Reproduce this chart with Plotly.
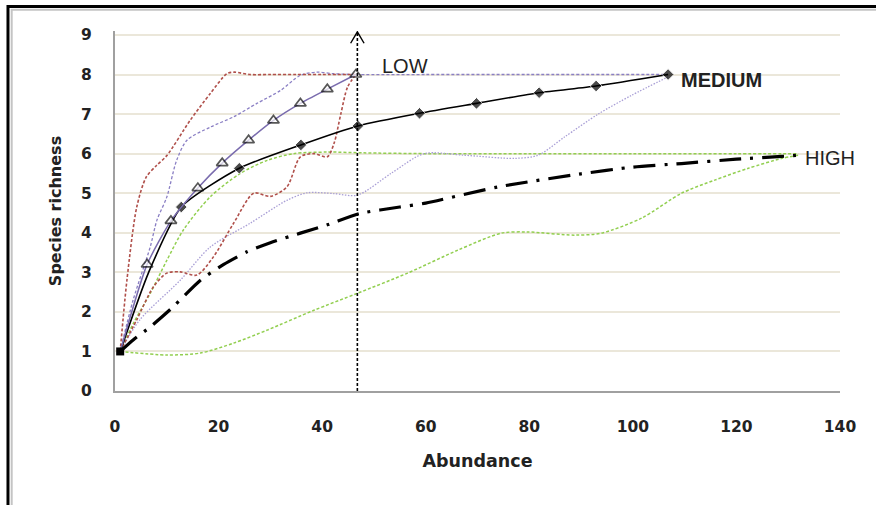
import plotly.graph_objects as go

# ---------------- data ----------------
# LOW mean curve (open triangles)
low_x = [1, 6.2, 10.8, 16, 20.7, 25.8, 30.6, 35.8, 41, 46.5]
low_y = [1, 3.2, 4.3, 5.13, 5.76, 6.34, 6.84, 7.27, 7.63, 8.0]

# MEDIUM mean curve (filled diamonds)
med_x = [1, 6.5, 12.8, 24, 35.9, 46.9, 58.8, 69.8, 81.9, 92.9, 106.8]
med_y = [1, 3.0, 4.65, 5.63, 6.22, 6.7, 7.02, 7.27, 7.54, 7.71, 8.0]

# HIGH mean curve (dash-dot)
high_x = [1, 3.5, 6.8, 11, 16.5, 21, 25.5, 30, 35.8, 41, 47.4, 55, 60, 74, 90, 100, 109.4, 120, 128.8, 132]
high_y = [1, 1.29, 1.62, 2.1, 2.8, 3.2, 3.52, 3.75, 3.99, 4.2, 4.49, 4.65, 4.75, 5.16, 5.49, 5.66, 5.75, 5.86, 5.93, 5.96]

# LOW replicates (red dashed)
red1_x = [1, 2.3, 4.2, 6, 8, 10, 14.5, 18.4, 21.6, 23, 26, 30, 35, 40, 46.5]
red1_y = [1, 2.8, 4.65, 5.4, 5.7, 5.95, 6.84, 7.52, 8.02, 8.06, 8.0, 8.0, 8.0, 8.0, 8.0]
red2_x = [1, 4.2, 7.4, 10, 12.6, 15.8, 19, 22.9, 26.8, 30, 33.2, 35.8, 38.4, 41, 42.3, 43.6, 44.9, 46.5]
red2_y = [1, 1.8, 2.63, 2.98, 3.01, 2.93, 3.39, 4.24, 5.0, 4.92, 5.16, 5.92, 6.0, 5.92, 6.26, 7.0, 7.68, 8.0]

# MEDIUM replicates (purple dashed / dotted)
pur1_x = [1, 3.5, 6.8, 8.1, 10, 11.9, 13.9, 18.4, 22.9, 27.4, 32, 35.8, 39, 42.3, 47, 60, 80, 106.8]
pur1_y = [1, 2.3, 3.64, 4.32, 4.9, 5.83, 6.34, 6.67, 6.93, 7.27, 7.6, 7.98, 8.06, 8.02, 8.0, 8.0, 8.0, 8.0]
pur2_x = [1, 4.8, 12.6, 18.4, 26.1, 33.2, 37.1, 42.3, 46.8, 53.3, 59.7, 67.4, 77.1, 81.7, 86.8, 93.3, 99.7, 106.8]
pur2_y = [1, 1.8, 2.8, 3.64, 4.24, 4.82, 5.01, 4.99, 4.95, 5.5, 6.0, 5.96, 5.88, 5.96, 6.42, 7.0, 7.47, 7.94]

# HIGH replicates (green dashed)
grn1_x = [1, 3.5, 6.8, 10, 13.2, 18.4, 24.2, 29.4, 34.5, 41, 48, 60, 80, 100, 120, 132]
grn1_y = [1, 1.7, 2.47, 3.3, 4.07, 4.91, 5.5, 5.83, 6.0, 6.04, 6.02, 6.0, 6.0, 6.0, 6.0, 6.0]
grn2_x = [1, 10, 16.5, 22.9, 29.4, 38.4, 46.8, 56.5, 66.2, 74.6, 79.7, 88.7, 93.9, 101.7, 109.4, 115.8, 122.3, 128.8, 132]
grn2_y = [1, 0.91, 0.96, 1.21, 1.54, 2.04, 2.47, 2.98, 3.56, 3.99, 4.02, 3.94, 3.99, 4.37, 5.0, 5.33, 5.63, 5.88, 5.96]

# reference arrow (vertical line at LOW abundance)
arrow_x = 46.8
arrow_top = 9.08

x_ticks = [0, 20, 40, 60, 80, 100, 120, 140]
y_ticks = [0, 1, 2, 3, 4, 5, 6, 7, 8, 9]

labels = ["LOW", "MEDIUM", "HIGH"]
label_x = [51.2, 108.9, 132.8]
label_y = [8.21, 7.86, 5.88]

FONT = "DejaVu Sans, sans-serif"

fig = go.Figure()

def dashed(x, y, color, dash, width=1.3):
    fig.add_trace(go.Scatter(x=x, y=y, mode="lines", line=dict(color=color, dash=dash, width=width, shape="spline", smoothing=0.8),
                             hoverinfo="skip", showlegend=False))

dashed(grn2_x, grn2_y, "#92cf50", "3px,2px", 1.5)
dashed(grn1_x, grn1_y, "#92cf50", "3px,2px", 1.5)
dashed(pur2_x, pur2_y, "#a99fd6", "1.5px,1.5px", 1.3)
dashed(pur1_x, pur1_y, "#8a7fc4", "3px,2px", 1.3)
dashed(red2_x, red2_y, "#b0504b", "3px,2px", 1.6)
dashed(red1_x, red1_y, "#b0504b", "3px,2px", 1.6)

# HIGH mean
fig.add_trace(go.Scatter(x=high_x, y=high_y, mode="lines",
                         line=dict(color="black", width=3.2, dash="22px,9px,3px,9px", shape="spline", smoothing=0.6),
                         hoverinfo="skip", showlegend=False))
# MEDIUM mean
fig.add_trace(go.Scatter(x=med_x, y=med_y, mode="lines+markers",
                         line=dict(color="black", width=1.6, shape="spline", smoothing=0.6),
                         marker=dict(symbol="diamond", size=[0, 0] + [9] * (len(med_x) - 2), color="black"),
                         hoverinfo="skip", showlegend=False))
# LOW mean
fig.add_trace(go.Scatter(x=low_x, y=low_y, mode="lines+markers",
                         line=dict(color="#7a6cae", width=1.5, shape="spline", smoothing=0.6),
                         marker=dict(symbol="triangle-up", size=[0] + [10] * (len(low_x) - 1), color="white",
                                     line=dict(color="#111111", width=1.7)),
                         hoverinfo="skip", showlegend=False))
# common origin marker
fig.add_trace(go.Scatter(x=[high_x[0]], y=[high_y[0]], mode="markers",
                         marker=dict(symbol="square", size=8, color="black"), hoverinfo="skip", showlegend=False))

# vertical arrow
fig.add_trace(go.Scatter(x=[arrow_x, arrow_x], y=[0, arrow_top], mode="lines",
                         line=dict(color="black", width=1.6, dash="3px,2px"), hoverinfo="skip", showlegend=False))
fig.add_trace(go.Scatter(x=[arrow_x - 1.3, arrow_x, arrow_x + 1.3], y=[arrow_top - 0.29, arrow_top, arrow_top - 0.29],
                         mode="lines", line=dict(color="black", width=1.4), hoverinfo="skip", showlegend=False))

for t, lx, ly in zip(labels, label_x, label_y):
    fig.add_annotation(x=lx, y=ly, text=(f"<b>{t}</b>" if t == "MEDIUM" else t), showarrow=False,
                       xanchor="left", yanchor="middle",
                       font=dict(family="Liberation Sans, Arial, sans-serif", size=20, color="#222222"))

# outer frame
fig.add_shape(type="rect", xref="paper", yref="paper", x0=-0.1476, x1=1.2, y0=-0.5, y1=1.068,
              line=dict(color="black", width=3), layer="below")
fig.add_shape(type="rect", xref="paper", yref="paper", x0=-0.1425, x1=1.2, y0=-0.5, y1=1.059,
              line=dict(color="#c4c4c4", width=2), layer="below")

fig.update_layout(
    width=876, height=505,
    margin=dict(l=115, r=36, t=31, b=114, autoexpand=False),
    paper_bgcolor="white", plot_bgcolor="white",
    font=dict(family=FONT, color="#222222"),
    showlegend=False,
)
fig.update_xaxes(range=[0, 140], tickvals=x_ticks, ticktext=[f"<b>{v}</b>" for v in x_ticks],
                 showgrid=False, zeroline=False, showline=True, linecolor="#a0a0a0", linewidth=2,
                 ticks="", ticklabelstandoff=20, tickfont=dict(size=15.5), automargin=False,
                 title=dict(text="<b>Abundance</b>", font=dict(size=17.5), standoff=20))
fig.update_yaxes(range=[0, 9.1], tickvals=y_ticks, ticktext=[f"<b>{v}</b>" for v in y_ticks],
                 showgrid=True, gridcolor="#ebe7da", gridwidth=1.5, zeroline=False,
                 showline=True, linecolor="#a0a0a0", linewidth=2, automargin=False,
                 ticks="", ticklabelstandoff=18, tickfont=dict(size=15.5),
                 title=dict(text="<b>Species richness</b>", font=dict(size=16), standoff=16))

fig.write_html("out.html", config={"displayModeBar": False},
               post_script="document.body.style.margin='0px';document.body.style.overflow='hidden';")
